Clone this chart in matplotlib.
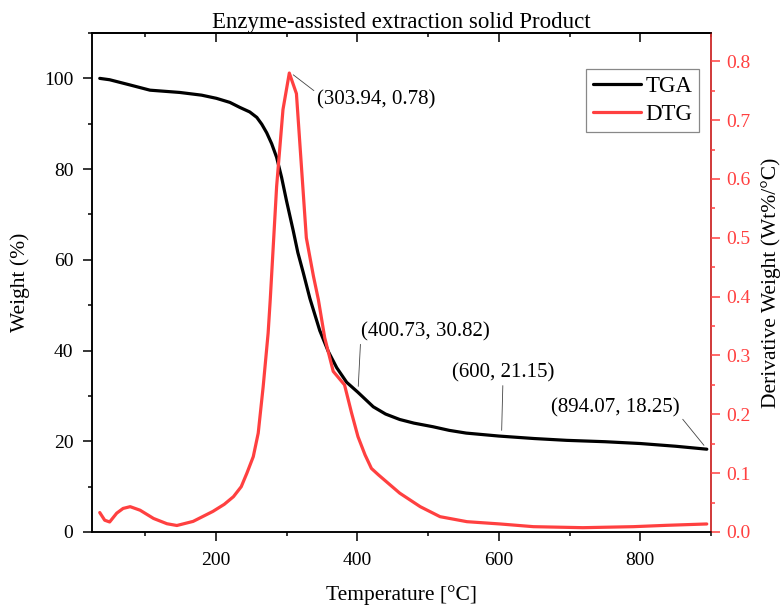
import matplotlib
matplotlib.use("Agg")
import matplotlib.pyplot as plt
from matplotlib.ticker import MultipleLocator, FormatStrFormatter

plt.rcParams['font.family'] = ['Liberation Serif', 'DejaVu Serif']

RED = '#FF4040'

# TGA data
tga_t = [36, 50, 80, 107, 149, 180, 201, 220, 234, 248, 258, 265, 272, 279, 286, 293, 300,
         309.5, 316, 323.6, 333, 347, 359, 371, 385, 400.73, 422.6, 440, 460, 480, 507, 530,
         554, 600, 650, 696, 750, 800, 850, 894.07]
tga_w = [100.0, 99.7, 98.5, 97.4, 96.9, 96.3, 95.6, 94.7, 93.6, 92.6, 91.4, 89.9, 88.0, 85.6,
         82.6, 78.2, 73.0, 66.4, 61.6, 57.2, 51.5, 44.4, 39.8, 36.2, 33.0, 30.82, 27.6, 26.0,
         24.8, 24.0, 23.2, 22.4, 21.8, 21.15, 20.6, 20.2, 19.9, 19.5, 18.9, 18.25]

# DTG data
dtg_t = [36, 43, 50, 60, 69, 79, 93, 112, 131, 145, 168, 196, 212, 225, 236, 244, 253, 260,
         267, 274, 277, 286, 295, 303.94, 314, 328, 338, 345, 354, 366, 382, 392, 401, 411, 420,
         430, 460, 489, 517, 555, 602, 649, 719, 790, 837, 894]
dtg_v = [0.033, 0.020, 0.017, 0.032, 0.040, 0.043, 0.037, 0.023, 0.014, 0.011, 0.018, 0.035,
         0.047, 0.060, 0.077, 0.100, 0.128, 0.168, 0.247, 0.338, 0.395, 0.587, 0.718, 0.78,
         0.745, 0.500, 0.435, 0.395, 0.330, 0.273, 0.250, 0.202, 0.162, 0.131, 0.108, 0.097,
         0.066, 0.043, 0.026, 0.0175, 0.0136, 0.009, 0.0073, 0.009, 0.0113, 0.0136]

fig = plt.figure(figsize=(7.84, 6.07), dpi=100)
ax = fig.add_axes([0.1173, 0.1236, 0.9069 - 0.1173, 0.9456 - 0.1236])
ax2 = ax.twinx()

TICK_FS = 14
LAB_FS = 15.5
ANN_FS = 15
l1, = ax.plot(tga_t, tga_w, color='black', lw=2.3, label='TGA', solid_capstyle='round')
l2, = ax2.plot(dtg_t, dtg_v, color=RED, lw=2.3, label='DTG', solid_capstyle='round')

ax.set_xlim(25, 900)
ax.set_ylim(0, 110)
ax2.set_ylim(0, 0.848)

ax.xaxis.set_major_locator(MultipleLocator(200))
ax.xaxis.set_minor_locator(MultipleLocator(100))
ax.yaxis.set_major_locator(MultipleLocator(20))
ax.yaxis.set_minor_locator(MultipleLocator(10))
ax2.yaxis.set_major_locator(MultipleLocator(0.1))
ax2.yaxis.set_minor_locator(MultipleLocator(0.05))
ax2.yaxis.set_major_formatter(FormatStrFormatter('%.1f'))

for a in (ax, ax2):
    for s in a.spines.values():
        s.set_linewidth(1.1)
ax2.spines['right'].set_color(RED)

ax.tick_params(axis='both', which='major', direction='out', length=6.3, width=1.1,
               labelsize=TICK_FS)
ax.tick_params(axis='x', which='major', pad=8)
ax.tick_params(axis='y', which='major', pad=7)
ax.tick_params(axis='both', which='minor', direction='out', length=3.2, width=1.1)
ax2.tick_params(axis='y', which='major', direction='out', length=6.3, width=1.1, colors=RED,
                labelsize=TICK_FS, pad=5)
ax2.tick_params(axis='y', which='minor', direction='out', length=3.2, width=1.1, colors=RED)

sec = ax.secondary_xaxis('top')
sec.xaxis.set_major_locator(MultipleLocator(200))
sec.xaxis.set_minor_locator(MultipleLocator(100))
sec.tick_params(axis='x', which='major', direction='in', length=6.3, width=1.1, labeltop=False)
sec.tick_params(axis='x', which='minor', direction='in', length=3.2, width=1.1)
sec.spines['top'].set_linewidth(1.1)

ax.set_xlabel('Temperature [°C]', fontsize=LAB_FS, labelpad=12)
ax.set_ylabel('Weight (%)', fontsize=LAB_FS, labelpad=10)
ax2.set_ylabel('Derivative Weight (Wt%/°C)', fontsize=LAB_FS, labelpad=7)
ax.set_title('Enzyme-assisted extraction solid Product', fontsize=16.5, pad=2)

ann_kw = dict(arrowstyle='-', color='#444444', lw=0.6, shrinkA=0, shrinkB=0)
ax2.annotate('(303.94, 0.78)', xy=(309.5, 0.777), xytext=(342.6, 0.735), fontsize=ANN_FS,
             ha='left', va='center', arrowprops=dict(relpos=(0, 0.85), **ann_kw))
ax.annotate('(400.73, 30.82)', xy=(401.4, 32.1), xytext=(404.8, 44.1), fontsize=ANN_FS,
            ha='left', va='center', arrowprops=dict(relpos=(0, 0.1), **ann_kw))
ax.annotate('(600, 21.15)', xy=(604.1, 22.4), xytext=(605.9, 35.0), fontsize=ANN_FS,
            ha='center', va='center', arrowprops=dict(relpos=(0.5, 0.1), **ann_kw))
ax.annotate('(894.07, 18.25)', xy=(890, 19.1), xytext=(856.1, 27.3), fontsize=ANN_FS,
            ha='right', va='center', arrowprops=dict(relpos=(1, 0.1), **ann_kw))

leg = ax2.legend([l1, l2], ['TGA', 'DTG'], loc='upper right', bbox_to_anchor=(0.9806, 0.9273),
                 fontsize=16.5, frameon=True, fancybox=False, framealpha=1, edgecolor='#888888',
                 handlelength=2.1, handletextpad=0.2, borderpad=0.3, labelspacing=0.3,
                 borderaxespad=0)
leg.get_frame().set_linewidth(0.9)

fig.savefig('out.png', dpi=100)
